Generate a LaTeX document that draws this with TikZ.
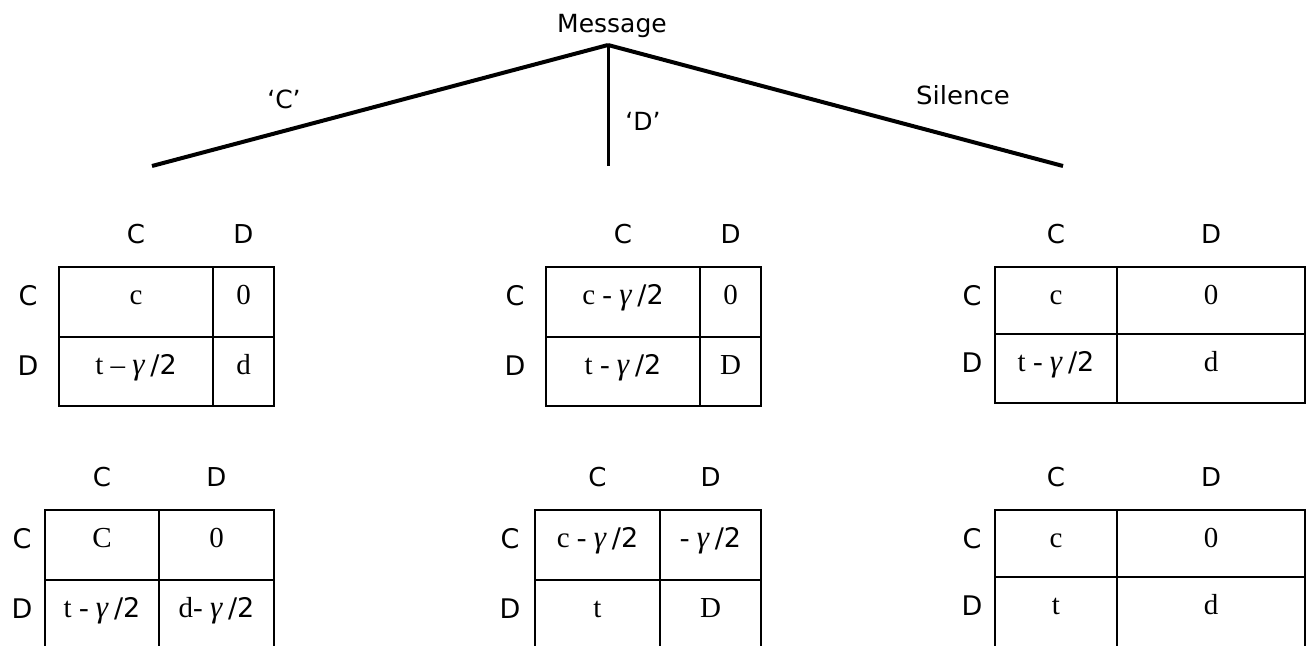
\documentclass[tikz,border=0pt]{standalone}
\usepackage{fontspec}
\setmainfont{Liberation Serif}
\newfontfamily\labfont{DejaVu Sans}
\begin{document}
\begin{tikzpicture}[x=1pt,y=-1pt,
  lbl/.style={font=\labfont\fontsize{26}{30}\selectfont, anchor=base, inner sep=0pt},
  rowlbl/.style={font=\labfont\fontsize{27}{32}\selectfont, anchor=base, inner sep=0pt},
  toplbl/.style={font=\labfont\fontsize{25}{30}\selectfont, anchor=base, inner sep=0pt},
  cell/.style={font=\fontsize{29}{34}\selectfont, anchor=base, inner sep=0pt},
  grid/.style={line width=2.6pt, line cap=rect},
  branch/.style={line width=4pt},
  stem/.style={line width=3pt}]
\useasboundingbox (0,0) rectangle (1313,645);
\clip (0,0) rectangle (1313,645);

% payoff matrix: prefix, left, divider, right, top, middle, bottom, row-label x
\newcommand\gamegrid[8]{%
  \draw[grid] (#2,#5) rectangle (#4,#7);
  \draw[grid] (#3,#5) -- (#3,#7);
  \draw[grid] (#2,#6) -- (#4,#6);
  \node[lbl] (#1hc) at ({(#2+#3)/2},{#5-24}) {C};
  \node[lbl] (#1hd) at ({(#3+#4)/2},{#5-24}) {D};
  \node[rowlbl] (#1rc) at (#8,{#5+38}) {C};
  \node[rowlbl] (#1rd) at (#8,{#6+38}) {D};
  \coordinate (#1cc) at ({(#2+#3)/2},{#5+37});
  \coordinate (#1cd) at ({(#3+#4)/2},{#5+37});
  \coordinate (#1dc) at ({(#2+#3)/2},{#6+37});
  \coordinate (#1dd) at ({(#3+#4)/2},{#6+37});
}
\newcommand\gam{{\fontsize{31}{34}\selectfont\textit{γ}}}
\newcommand\half{\hspace{0.18em}{\labfont\fontsize{27}{32}\selectfont/2}}

% message tree
\node[toplbl] (msg) at (612,32) {Message};
\coordinate (root) at (608,45);
\coordinate (leafC) at (152,166);
\coordinate (leafD) at (608,166);
\coordinate (leafS) at (1063,166);
\draw[branch] (root) -- (leafC);
\draw[branch] (root) -- (leafS);
\draw[stem] (root) -- (leafD);
\node[toplbl] (labC) at (284,108) {‘C’};
\node[toplbl] (labD) at (643,130) {‘D’};
\node[toplbl, xscale=1.04] (labS) at (963,104) {Silence};

% upper row of matrices
\gamegrid{a}{59}{213}{274}{267}{337}{406}{28}
\node[cell] (acc) at (acc) {c};
\node[cell] (acd) at (acd) {0};
\node[cell] (adc) at (adc) {t – \gam\half};
\node[cell] (add) at (add) {d};

\gamegrid{b}{546}{700}{761}{267}{337}{406}{515}
\node[cell] (bcc) at (bcc) {c - \gam\half};
\node[cell] (bcd) at (bcd) {0};
\node[cell] (bdc) at (bdc) {t - \gam\half};
\node[cell] (bdd) at (bdd) {D};

\gamegrid{c}{995}{1117}{1305}{267}{334}{403}{972}
\node[cell] (ccc) at (ccc) {c};
\node[cell] (ccd) at (ccd) {0};
\node[cell] (cdc) at (cdc) {t - \gam\half};
\node[cell] (cdd) at (cdd) {d};

% lower row of matrices
\gamegrid{d}{45}{159}{274}{510}{580}{680}{22}
\node[cell] (dcc) at (dcc) {C};
\node[cell] (dcd) at (dcd) {0};
\node[cell] (ddc) at (ddc) {t - \gam\half};
\node[cell] (ddd) at (ddd) {d- \gam\half};

\gamegrid{e}{535}{660}{761}{510}{580}{680}{510}
\node[cell] (ecc) at (ecc) {c - \gam\half};
\node[cell] (ecd) at (ecd) {- \gam\half};
\node[cell] (edc) at (edc) {t};
\node[cell] (edd) at (edd) {D};

\gamegrid{f}{995}{1117}{1305}{510}{577}{680}{972}
\node[cell] (fcc) at (fcc) {c};
\node[cell] (fcd) at (fcd) {0};
\node[cell] (fdc) at (fdc) {t};
\node[cell] (fdd) at (fdd) {d};
\end{tikzpicture}
\end{document}
